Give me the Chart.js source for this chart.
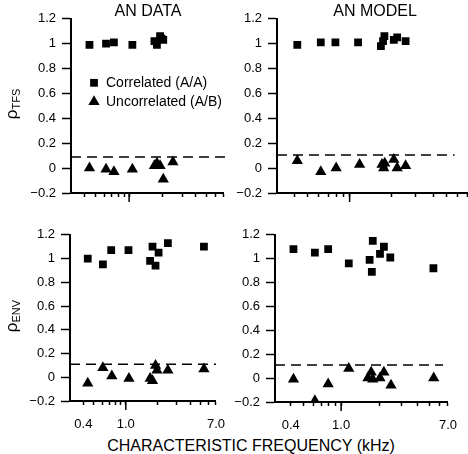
<!DOCTYPE html>
<html>
<head>
<meta charset="utf-8">
<script src="https://cdn.jsdelivr.net/npm/chart.js"></script>
<style>
  body { margin: 0; width: 468px; height: 454px; overflow: hidden; background: #fff; position: relative;
         font-family: "Liberation Sans", Arial, sans-serif; color: #000; }
  canvas { position: absolute; }
  .lbl { position: absolute; white-space: nowrap; transform: translate(-50%, -50%); }
  .ylbl { position: absolute; white-space: nowrap; transform: translate(-50%, -50%) rotate(-90deg); font-size: 17px; }
  .ylbl sub { font-size: 11px; vertical-align: -3px; }
</style>
</head>
<body>
<canvas id="c-tl"></canvas>
<canvas id="c-tr"></canvas>
<canvas id="c-bl"></canvas>
<canvas id="c-br"></canvas>

<div class="lbl" style="left:148px; top:11px; font-size:16px;">AN DATA</div>
<div class="lbl" style="left:375px; top:11px; font-size:16px;">AN MODEL</div>
<div class="ylbl" style="left:12px; top:104px;">&rho;<sub>TFS</sub></div>
<div class="ylbl" style="left:12px; top:316px;">&rho;<sub>ENV</sub></div>
<div class="lbl" style="left:251px; top:446px; font-size:16px;">CHARACTERISTIC FREQUENCY (kHz)</div>

<script>
// --- data (CF in kHz, correlation rho) ---
const xTicks = [0.4, 0.5, 0.6, 0.7, 0.8, 0.9, 1, 2, 3, 4, 5, 6, 7];
const xLabelVals = [0.4, 1, 7];
const xLabelText = ['0.4', '1.0', '7.0'];
const xMajor = [1];
const yTicks = [-0.2, 0, 0.2, 0.4, 0.6, 0.8, 1, 1.2];
const yTickText = ['\u22120.2', '0', '0.2', '0.4', '0.6', '0.8', '1', '1.2'];

// AN DATA, TFS
const dataTfsCorrCF  = [0.44, 0.62, 0.73, 1.07, 1.69, 1.78, 1.9, 1.96, 2.03];
const dataTfsCorrRho = [0.99, 1.0, 1.01, 0.99, 1.02, 0.99, 1.06, 1.04, 1.03];
const dataTfsUncCF   = [0.44, 0.62, 0.73, 1.07, 1.69, 1.78, 1.9, 2.03, 2.48];
const dataTfsUncRho  = [0.0, -0.01, -0.03, -0.01, 0.02, 0.04, 0.02, -0.09, 0.05];
const dataTfsThresh  = [0.09, 0.09];
const dataTfsThreshCF = [0.3, 7.8];

// AN MODEL, TFS
const modelTfsCorrCF  = [0.42, 0.62, 0.79, 1.15, 1.68, 1.74, 1.78, 2.08, 2.2, 2.53];
const modelTfsCorrRho = [0.99, 1.01, 1.01, 1.01, 0.98, 1.02, 1.06, 1.03, 1.05, 1.02];
const modelTfsUncCF   = [0.42, 0.62, 0.8, 1.18, 1.71, 1.76, 1.79, 2.08, 2.2, 2.53];
const modelTfsUncRho  = [0.06, -0.03, 0.0, 0.03, 0.03, 0.0, 0.04, 0.07, 0.0, 0.02];
const modelTfsThresh  = [0.105, 0.105];
const modelTfsThreshCF = [0.3, 5.7];

// AN DATA, ENV
const dataEnvCorrCF  = [0.44, 0.61, 0.73, 1.06, 1.69, 1.78, 1.9, 2.03, 2.48, 5.4];
const dataEnvCorrRho = [1.0, 0.95, 1.07, 1.07, 0.98, 1.1, 0.94, 1.05, 1.13, 1.1];
const dataEnvUncCF   = [0.44, 0.61, 0.74, 1.07, 1.69, 1.78, 1.9, 1.96, 2.48, 5.4];
const dataEnvUncRho  = [-0.05, 0.08, 0.01, -0.01, -0.01, -0.03, 0.1, 0.06, 0.06, 0.07];
const dataEnvThresh  = [0.11, 0.11];
const dataEnvThreshCF = [0.3, 7.0];

// AN MODEL, ENV
const modelEnvCorrCF  = [0.42, 0.62, 0.79, 1.15, 1.68, 1.75, 1.78, 2.03, 2.18, 2.45, 5.37];
const modelEnvCorrRho = [1.08, 1.05, 1.08, 0.96, 0.99, 0.89, 1.15, 1.04, 1.1, 1.01, 0.92];
const modelEnvUncCF   = [0.42, 0.62, 0.79, 1.15, 1.63, 1.73, 1.78, 2.03, 2.18, 2.48, 5.4];
const modelEnvUncRho  = [-0.01, -0.19, -0.05, 0.08, 0.0, 0.05, -0.01, 0.0, 0.05, -0.06, 0.0];
const modelEnvThresh  = [0.11, 0.11];
const modelEnvThreshCF = [0.3, 6.4];

const pts = (xs, ys) => xs.map((x, i) => ({ x: x, y: ys[i] }));

Chart.defaults.font.family = '"Liberation Sans", Arial, sans-serif';
Chart.defaults.font.size = 13;
Chart.defaults.color = '#000';

// axis box sizes, so the plot areas land where the reference has them
const Y_W = 60, X_H = 30, PAD_T = 12, PAD_R = 14;

// longer tick at 1.0 kHz
const majorTick = {
  id: 'majorTick',
  afterDraw(chart) {
    const sx = chart.scales.x, ctx = chart.ctx;
    ctx.save();
    ctx.strokeStyle = '#000';
    ctx.lineWidth = 1.5;
    xMajor.forEach(v => {
      const px = sx.getPixelForValue(v);
      ctx.beginPath();
      ctx.moveTo(px, sx.top);
      ctx.lineTo(px, sx.top + 9);
      ctx.stroke();
    });
    ctx.restore();
  }
};

// legend drawn inside the plot area
const insideLegend = {
  id: 'insideLegend',
  afterDraw(chart, args, opts) {
    if (!opts.show) return;
    const ctx = chart.ctx, a = chart.chartArea;
    let y = a.top + opts.top;
    ctx.save();
    chart.data.datasets.forEach(ds => {
      if (!ds.legendText) return;
      ctx.fillStyle = '#000';
      Chart.helpers.drawPoint(ctx, { pointStyle: ds.pointStyle, radius: ds.pointRadius, rotation: 0, borderWidth: 0 },
        a.left + opts.left, y);
      ctx.font = '14px "Liberation Sans", Arial, sans-serif';
      ctx.textBaseline = 'middle';
      ctx.textAlign = 'left';
      ctx.fillText(ds.legendText, a.left + opts.left + 12, y);
      y += opts.gap;
    });
    ctx.restore();
  }
};

function makePanel(id, area, corr, unc, thr, showXLabels, showLegend) {
  const cv = document.getElementById(id);
  cv.width = area.r - area.l + Y_W + PAD_R;
  cv.height = area.b - area.t + PAD_T + X_H;
  cv.style.left = (area.l - Y_W) + 'px';
  cv.style.top = (area.t - PAD_T) + 'px';

  return new Chart(cv, {
    data: {
      datasets: [{
        type: 'line',
        data: thr,
        borderColor: '#000',
        borderWidth: 1.5,
        borderDash: [10, 6],
        pointRadius: 0,
        clip: false
      }, {
        type: 'scatter',
        legendText: 'Correlated (A/A)',
        data: corr,
        pointStyle: 'rect',
        pointRadius: 5.5,
        backgroundColor: '#000',
        borderWidth: 0
      }, {
        type: 'scatter',
        legendText: 'Uncorrelated (A/B)',
        data: unc,
        pointStyle: 'triangle',
        pointRadius: 6.5,
        backgroundColor: '#000',
        borderWidth: 0
      }]
    },
    options: {
      responsive: false,
      animation: false,
      events: [],
      layout: { padding: { top: PAD_T, right: PAD_R, left: 0, bottom: 0 } },
      plugins: {
        legend: { display: false },
        tooltip: { enabled: false },
        insideLegend: { show: showLegend, left: 23, top: 64, gap: 19 }
      },
      scales: {
        x: {
          type: 'logarithmic',
          min: 0.3, max: 7,
          afterBuildTicks: s => { s.ticks = xTicks.map(v => ({ value: v })); },
          afterFit: s => { s.height = X_H; },
          ticks: {
            autoSkip: false, maxRotation: 0, padding: 12,
            callback: v => {
              const i = xLabelVals.indexOf(v);
              return (showXLabels && i >= 0) ? xLabelText[i] : '';
            }
          },
          grid: { drawOnChartArea: false, drawTicks: true, tickLength: 4, tickColor: '#000', tickWidth: 1.5 },
          border: { display: true, color: '#000', width: 2 }
        },
        y: {
          min: -0.2, max: 1.2,
          afterBuildTicks: s => { s.ticks = yTicks.map(v => ({ value: v })); },
          afterFit: s => { s.width = Y_W; },
          ticks: {
            padding: 6,
            callback: v => {
              const i = yTicks.findIndex(t => Math.abs(t - v) < 1e-9);
              return i >= 0 ? yTickText[i] : '';
            }
          },
          grid: { drawOnChartArea: false, drawTicks: true, tickLength: 9, tickColor: '#000', tickWidth: 1.5 },
          border: { display: true, color: '#000', width: 2 }
        }
      }
    },
    plugins: [majorTick, insideLegend]
  });
}

makePanel('c-tl', { l: 71, t: 17, r: 223, b: 193 },
  pts(dataTfsCorrCF, dataTfsCorrRho), pts(dataTfsUncCF, dataTfsUncRho),
  pts(dataTfsThreshCF, dataTfsThresh), false, true);

makePanel('c-tr', { l: 277, t: 17, r: 467, b: 193 },
  pts(modelTfsCorrCF, modelTfsCorrRho), pts(modelTfsUncCF, modelTfsUncRho),
  pts(modelTfsThreshCF, modelTfsThresh), false, false);

makePanel('c-bl', { l: 70, t: 233, r: 223, b: 401 },
  pts(dataEnvCorrCF, dataEnvCorrRho), pts(dataEnvUncCF, dataEnvUncRho),
  pts(dataEnvThreshCF, dataEnvThresh), true, false);

makePanel('c-br', { l: 275, t: 233, r: 455, b: 402 },
  pts(modelEnvCorrCF, modelEnvCorrRho), pts(modelEnvUncCF, modelEnvUncRho),
  pts(modelEnvThreshCF, modelEnvThresh), true, false);
</script>
</body>
</html>
